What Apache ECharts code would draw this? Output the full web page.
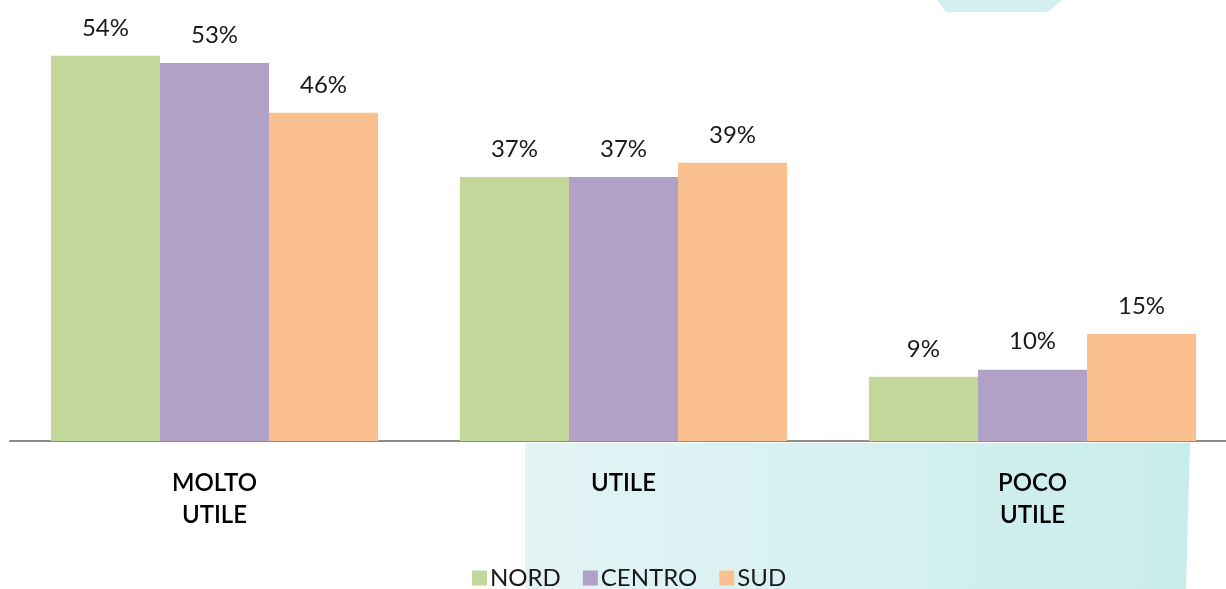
<!DOCTYPE html>
<html><head><meta charset="utf-8">
<script src="https://cdn.jsdelivr.net/npm/echarts@6/dist/echarts.min.js"></script>
<style>html,body{margin:0;padding:0;background:#fff}#c{width:1226px;height:589px}</style>
</head><body><div id="c"></div>
<script>
const categories = ['MOLTO\nUTILE', 'UTILE', 'POCO\nUTILE'];
const seriesNames = ['NORD', 'CENTRO', 'SUD'];
const nord = [54, 37, 9];
const centro = [53, 37, 10];
const sud = [46, 39, 15];
const colors = ['#c4d79b', '#b2a1c7', '#fac090'];

const chart = echarts.init(document.getElementById('c'));
const FONT = 'Lato, "Noto Sans", sans-serif';
const mk = (name, data, color) => ({
  name, type: 'bar', data, barGap: '0%', barCategoryGap: '20%',
  itemStyle: { color },
  label: { show: true, position: 'top', distance: 16, formatter: '{c}%',
    fontFamily: FONT, fontSize: 24, color: '#1a1a1a' }
});
chart.setOption({
  animation: false,
  graphic: [
    { type: 'polygon', z: -10, silent: true,
      shape: { points: [[525,443],[1190,443],[1186,589],[525,589]] },
      style: { fill: new echarts.graphic.LinearGradient(0,0,1,0,[{offset:0,color:'#e4f4f5'},{offset:1,color:'#c8ecec'}]) } },
    { type: 'polygon', z: -10, silent: true,
      shape: { points: [[937,0],[1062,0],[1048,12],[946,12]] },
      style: { fill: '#d3eff0' } }
  ],
  grid: { left: 10, width: 1227, top: 13, bottom: 148, outerBoundsMode: 'none', containLabel: false },
  legend: {
    bottom: -6, left: 467, data: seriesNames,
    itemWidth: 15, itemHeight: 15, itemGap: 22, icon: 'rect',
    textStyle: { fontFamily: FONT, fontSize: 24, color: '#1a1a1a', padding: [0,0,0,-2] }
  },
  xAxis: {
    type: 'category', data: categories,
    axisLine: { lineStyle: { color: '#8c8c8c', width: 2 } },
    axisTick: { show: false },
    axisLabel: { margin: 26, fontFamily: FONT, fontSize: 24, fontWeight: 600, color: '#000', lineHeight: 32 }
  },
  yAxis: { type: 'value', min: 0, max: 60, show: false, splitLine: { show: false } },
  series: [mk(seriesNames[0], nord, colors[0]), mk(seriesNames[1], centro, colors[1]), mk(seriesNames[2], sud, colors[2])]
});
</script></body></html>
